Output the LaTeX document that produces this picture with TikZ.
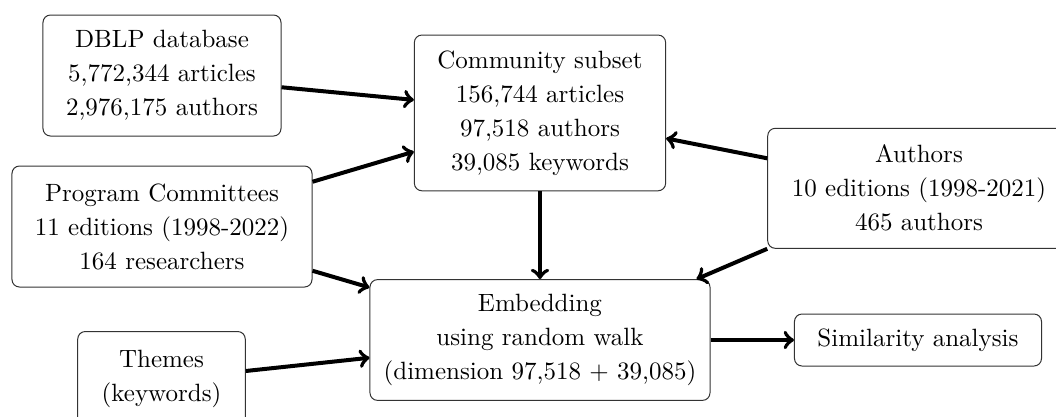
\documentclass[tikz,border=0pt]{standalone}
\usepackage{tikz}
\usetikzlibrary{arrows,positioning}

\begin{document}
\begin{tikzpicture}[x=0.4pt,y=-0.4pt,
    box/.style={draw=black!80,thin,rounded corners=3pt,align=center,
        font=\fontsize{10pt}{13.6pt}\selectfont},
    arr/.style={->,ultra thick}]
\useasboundingbox (0,0) rectangle (1056,416);
% Sources
\node[box,minimum width=95.2pt,minimum height=48.4pt] (dblp) at (162,75.5)
    {DBLP database\\5,772,344 articles\\2,976,175 authors};
\node[box,minimum width=120pt,minimum height=48.4pt] (pc) at (162,226.5)
    {Program Committees\\11 editions (1998-2022)\\164 researchers};
\node[box,minimum width=67pt,minimum height=38pt] (themes) at (161.5,379)
    {Themes\\(keywords)};
\node[box,minimum width=121pt,minimum height=48pt] (authors) at (919,188.3)
    {Authors\\10 editions (1998-2021)\\465 authors};

% Processing
\node[box,minimum width=100.5pt,minimum height=62.3pt] (comm) at (540,112.9)
    {Community subset\\156,744 articles\\97,518 authors\\39,085 keywords};
\node[box,minimum width=136pt,minimum height=48.3pt] (emb) at (540,340)
    {Embedding\\using random walk\\(dimension 97,518 + 39,085)};
\node[box,minimum width=98.8pt,minimum height=20.8pt] (sim) at (918,340)
    {Similarity analysis};

% Arrows
\draw[arr] ([yshift=-4.7pt]dblp.east) -- ([yshift=5.2pt]comm.west);
\draw[arr] ([yshift=17.9pt]pc.east) -- ([yshift=-15.5pt]comm.west);
\draw[arr] ([yshift=-17.7pt]pc.east) -- ([yshift=21pt]emb.west);
\draw[arr] ([yshift=3.2pt]themes.east) -- ([yshift=-7.1pt]emb.west);
\draw[arr] ([yshift=12pt]authors.west) -- ([yshift=-10.2pt]comm.east);
\draw[arr] (authors.south west) -- ([xshift=-5.6pt]emb.north east);
\draw[arr] (comm) -- (emb);
\draw[arr] (emb) -- (sim);
\end{tikzpicture}
\end{document}
